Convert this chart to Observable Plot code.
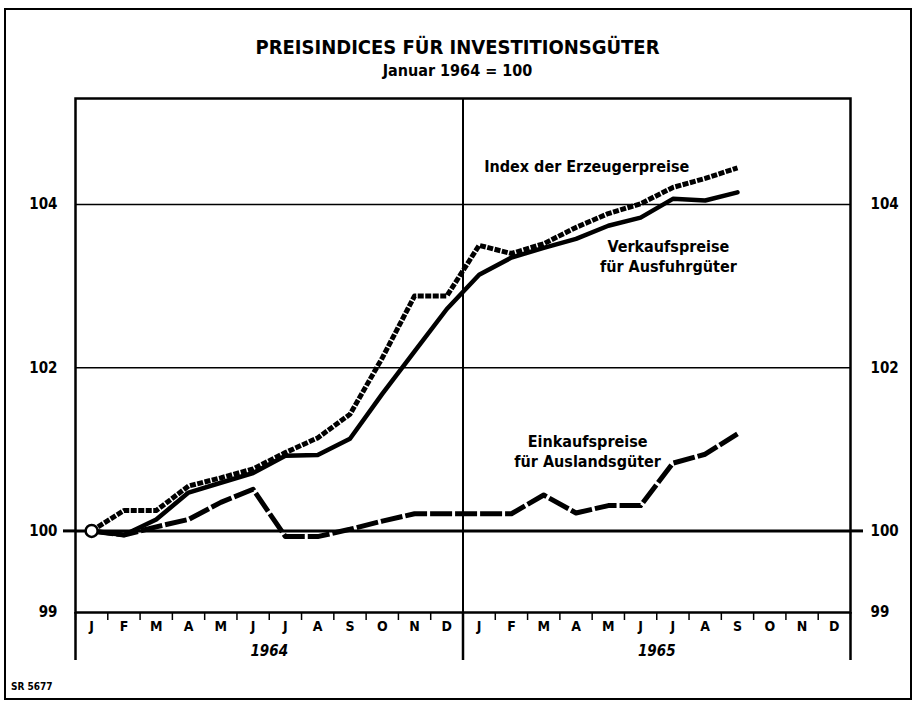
<!DOCTYPE html>
<html><head><meta charset="utf-8">
<script src="https://cdn.jsdelivr.net/npm/d3@7"></script>
<script src="https://cdn.jsdelivr.net/npm/@observablehq/plot@0.6"></script>
<style>
body{margin:0;background:#fff;}
#wrap{position:relative;width:915px;height:702px;overflow:hidden;font-family:"DejaVu Sans Condensed","Liberation Sans Narrow",sans-serif;font-stretch:condensed;font-weight:bold;color:#000;}
#border{position:absolute;left:4px;top:8px;width:904px;height:688px;border:2px solid #000;}
#title{position:absolute;top:35px;left:0;width:915px;text-align:center;font-size:20px;}
#subtitle{position:absolute;top:61px;left:0;width:915px;text-align:center;font-size:16px;}
#chart{position:absolute;left:0;top:0;}
#caption{position:absolute;left:11px;top:681px;font-size:10px;}
</style></head>
<body>
<div id="wrap">
  <div id="border"></div>
  <div id="chart"></div>
  <div id="title">PREISINDICES FÜR INVESTITIONSGÜTER</div>
  <div id="subtitle">Januar 1964 = 100</div>
  <div id="caption">SR 5677</div>
</div>
<script>
const monthLabels = ["J","F","M","A","M","J","J","A","S","O","N","D","J","F","M","A","M","J","J","A","S","O","N","D"];
const years = ["1964","1965"];
const yTicks = [99,100,102,104];
// Jan 1964 .. Sep 1965
const erzeuger = [100,100.25,100.25,100.55,100.65,100.76,100.96,101.14,101.43,102.12,102.88,102.88,103.5,103.4,103.52,103.72,103.89,104.01,104.21,104.32,104.45];
const verkauf  = [100,99.95,100.14,100.47,100.59,100.71,100.92,100.93,101.13,101.68,102.2,102.72,103.14,103.35,103.47,103.58,103.74,103.84,104.07,104.05,104.15];
const einkauf  = [100,99.95,100.05,100.14,100.35,100.51,99.93,99.93,100.02,100.12,100.21,100.21,100.21,100.21,100.44,100.22,100.31,100.31,100.83,100.94,101.19];
const labelText = ["Index der Erzeugerpreise","Verkaufspreise\nfür Ausfuhrgüter","Einkaufspreise\nfür Auslandsgüter"];
const labelMonth = [15.83,18.36,15.86];
const labelValue = [104.48,103.37,100.98];

const toRows = arr => arr.map((v,i)=>({m:i+0.5, v}));
const labels = labelText.map((t,i)=>({t, m:labelMonth[i], v:labelValue[i]}));

const chart = Plot.plot({
  width:915, height:702,
  marginTop:98, marginBottom:90, marginLeft:75, marginRight:65,
  style:{fontFamily:'"DejaVu Sans Condensed","Liberation Sans Narrow",sans-serif', fontStretch:"condensed", fontWeight:"bold", fontSize:"15px", background:"transparent", color:"#000"},
  x:{type:"linear", domain:[0,24], axis:null},
  y:{type:"linear", domain:[99,105.3], axis:null},
  marks:[
    Plot.ruleY([102,104], {strokeWidth:1.5}),
    Plot.ruleY([100], {strokeWidth:3}),
    Plot.frame({strokeWidth:2.5}),
    Plot.ruleX([12], {strokeWidth:2}),
    Plot.axisX(d3.range(25), {anchor:"bottom", tickSize:8, tickFormat:()=>"", strokeWidth:1.5, label:null}),
    Plot.axisX([0,12,24], {anchor:"bottom", tickSize:48, tickFormat:()=>"", strokeWidth:2.5, label:null}),
    Plot.axisX(d3.range(24).map(i=>i+0.5), {anchor:"bottom", tickSize:0, tickPadding:9, fontSize:14, tickFormat:d=>monthLabels[Math.floor(d)], label:null}),
    Plot.axisX([6,18], {anchor:"bottom", tickSize:0, tickPadding:33, fontSize:15, fontStyle:"italic", tickFormat:d=>years[Math.floor(d/12)], label:null}),
    Plot.axisY(yTicks, {anchor:"left", tickSize:0, tickPadding:18, tickFormat:d=>String(d), label:null}),
    Plot.axisY(yTicks, {anchor:"right", tickSize:0, tickPadding:20, tickFormat:d=>String(d), label:null}),
    Plot.axisY([100], {anchor:"left", tickSize:12, tickFormat:()=>"", strokeWidth:3, label:null}),
    Plot.axisY([100], {anchor:"right", tickSize:12, tickFormat:()=>"", strokeWidth:3, label:null}),
    Plot.line(toRows(einkauf), {x:"m", y:"v", strokeWidth:5, strokeDasharray:"22,3", strokeLinecap:"butt", strokeLinejoin:"round"}),
    Plot.line(toRows(verkauf), {x:"m", y:"v", strokeWidth:4.5, strokeLinecap:"round", strokeLinejoin:"round"}),
    Plot.line(toRows(erzeuger), {x:"m", y:"v", strokeWidth:5, strokeDasharray:"6,1.5", strokeLinecap:"butt", strokeLinejoin:"round"}),
    Plot.dot([{m:0.5, v:einkauf[0]}], {x:"m", y:"v", r:6, fill:"white", stroke:"black", strokeWidth:2.5}),
    Plot.text(labels, {x:"m", y:"v", text:"t", fontSize:16, lineHeight:1.25, fill:"black"})
  ]
});
document.getElementById("chart").appendChild(chart);
</script>
</body></html>
